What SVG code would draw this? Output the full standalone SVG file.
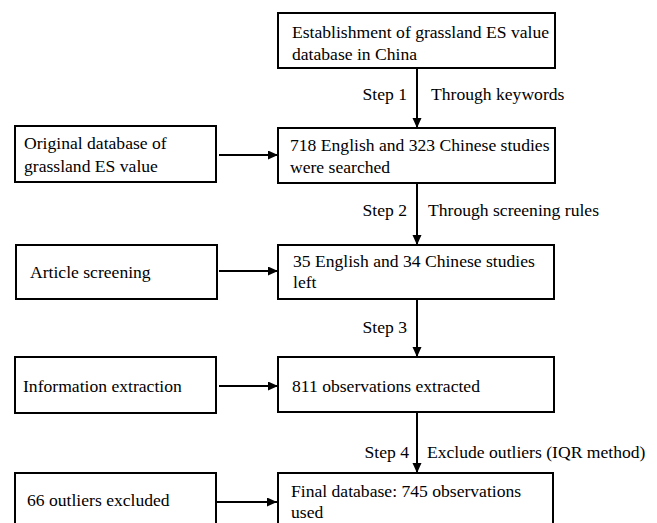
<svg xmlns="http://www.w3.org/2000/svg" width="657" height="523" viewBox="0 0 657 523">
<style>
rect.box{fill:#fff;stroke:#000;stroke-width:2}
text{font-family:'Liberation Serif','DejaVu Serif',serif;font-size:17.6px;fill:#000}
.conn line{stroke:#000;stroke-width:2}
</style>
<defs>
<marker id="ah" markerUnits="userSpaceOnUse" markerWidth="10" markerHeight="10" refX="10" refY="4.5" orient="auto">
<path d="M0,0 L10,4.5 L0,9 z" fill="#000"/>
</marker>
</defs>
<rect width="657" height="523" fill="#fff"/>
<g id="n1"><rect class="box" x="278" y="13" width="277" height="55"/><text x="292" y="38">Establishment of grassland ES value</text><text x="292" y="60">database in China</text></g>
<g id="n2"><rect class="box" x="278" y="128" width="277" height="55"/><text x="290" y="151">718 English and 323 Chinese studies</text><text x="290" y="173">were searched</text></g>
<g id="n3"><rect class="box" x="278" y="245" width="276" height="54"/><text x="293" y="267">35 English and 34 Chinese studies</text><text x="293" y="288">left</text></g>
<g id="n4"><rect class="box" x="278" y="357" width="276" height="55"/><text x="292" y="392">811 observations extracted</text></g>
<g id="n5"><rect class="box" x="278" y="473" width="275" height="60"/><text x="291" y="497">Final database: 745 observations</text><text x="291" y="518">used</text></g>
<g id="s1"><rect class="box" x="15" y="126" width="201" height="56"/><text x="24" y="149">Original database of</text><text x="24" y="172">grassland ES value</text></g>
<g id="s2"><rect class="box" x="16" y="245" width="201" height="54"/><text x="30" y="278">Article screening</text></g>
<g id="s3"><rect class="box" x="15" y="357" width="201" height="56"/><text x="23" y="392">Information extraction</text></g>
<g id="s4"><rect class="box" x="15" y="473" width="201" height="60"/><text x="27" y="506">66 outliers excluded</text></g>
<g class="conn" id="connectors">
<line x1="417" y1="68" x2="417" y2="128" marker-end="url(#ah)"/>
<line x1="417" y1="183" x2="417" y2="245" marker-end="url(#ah)"/>
<line x1="417" y1="299" x2="417" y2="357" marker-end="url(#ah)"/>
<line x1="417" y1="412" x2="417" y2="473" marker-end="url(#ah)"/>
<line x1="219" y1="155" x2="278" y2="155" marker-end="url(#ah)"/>
<line x1="219" y1="271" x2="278" y2="271" marker-end="url(#ah)"/>
<line x1="219" y1="386" x2="278" y2="386" marker-end="url(#ah)"/>
<line x1="217" y1="502" x2="277" y2="502" marker-end="url(#ah)"/>
</g>
<g id="labels">
<text x="407" y="100" text-anchor="end">Step 1</text>
<text x="431" y="100">Through keywords</text>
<text x="407" y="216" text-anchor="end">Step 2</text>
<text x="428" y="216">Through screening rules</text>
<text x="407" y="333" text-anchor="end">Step 3</text>
<text x="409" y="458" text-anchor="end">Step 4</text>
<text x="427" y="458">Exclude outliers (IQR method)</text>
</g>
</svg>
